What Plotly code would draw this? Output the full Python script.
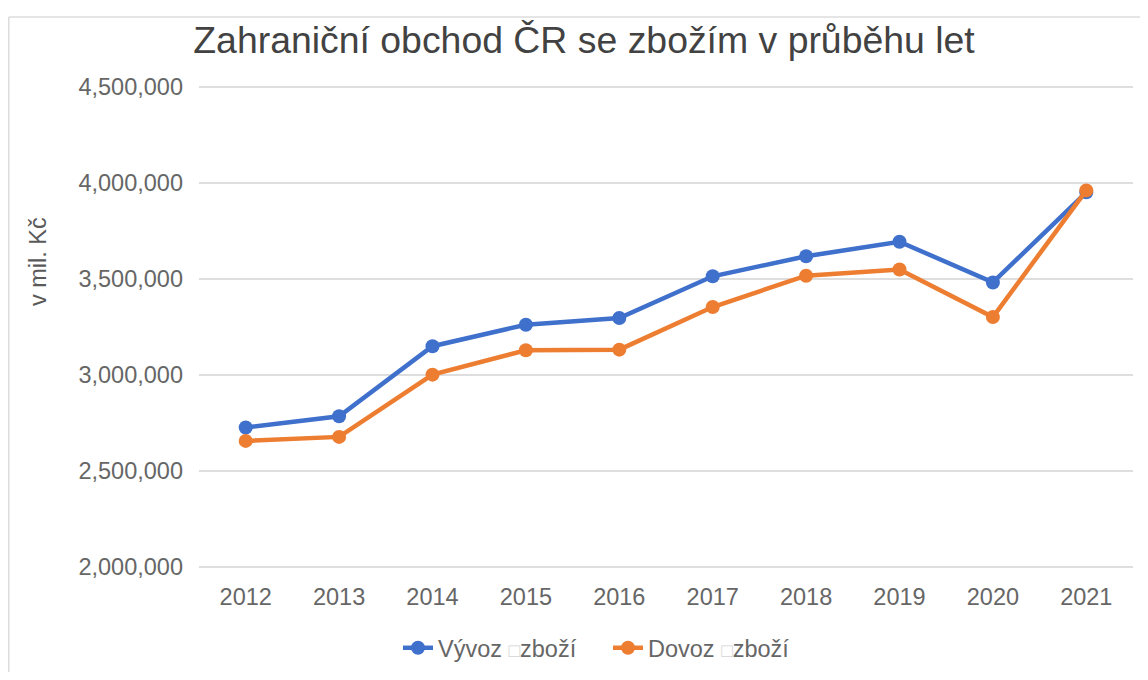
import plotly.graph_objects as go

years = ["2012", "2013", "2014", "2015", "2016", "2017", "2018", "2019", "2020", "2021"]
vyvoz = [2727000, 2785000, 3150000, 3262000, 3297000, 3514000, 3618000, 3694000, 3482000, 3951000]
dovoz = [2657000, 2678000, 3002000, 3129000, 3132000, 3354000, 3517000, 3549000, 3302000, 3961000]
y_ticks = [2000000, 2500000, 3000000, 3500000, 4000000, 4500000]

BLUE = "#3F70CC"
ORANGE = "#ED7D31"
FONT = "Liberation Sans, Arial, sans-serif"
FS = 23.5

# page is offset by the 8px body margin, so figure coords = page coords - 8
W, H = 1140, 664
L, R, T, B = 191, 15, 76, 102
pw, ph = W - L - R, H - T - B
YMIN, YMAX = 1985000, 4515000

def px_x(x):
    return (x - L) / pw

def px_y(y):
    return (H - B - y) / ph

box = "<span style='color:#d4d4d4;font-size:19px'>□</span>"

fig = go.Figure()
fig.add_trace(go.Scatter(
    x=years, y=vyvoz, mode="lines+markers", name="Vývoz " + box + "zboží",
    line=dict(color=BLUE, width=4.5), marker=dict(color=BLUE, size=14),
))
fig.add_trace(go.Scatter(
    x=years, y=dovoz, mode="lines+markers", name="Dovoz " + box + "zboží",
    line=dict(color=ORANGE, width=4.5), marker=dict(color=ORANGE, size=14),
))

fig.update_layout(
    width=W, height=H,
    margin=dict(l=L, r=R, t=T, b=B, pad=0, autoexpand=False),
    paper_bgcolor="white", plot_bgcolor="white",
    font=dict(family=FONT, color="#666666", size=FS),
    title=dict(text="Zahraniční obchod ČR se zbožím v průběhu let",
               font=dict(family=FONT, size=37.4, color="#424242"),
               x=576 / W, xanchor="center", xref="container",
               y=1 - 32 / H, yanchor="middle", yref="container"),
    xaxis=dict(type="category", range=[-0.5, 9.5], showgrid=False, zeroline=False,
               showline=False, ticks="", ticklabelstandoff=10,
               tickfont=dict(size=FS, color="#666666")),
    yaxis=dict(range=[YMIN, YMAX], tickvals=y_ticks, tickformat=",d",
               showgrid=True, gridcolor="#dedede", gridwidth=1.5, zeroline=False,
               showline=False, ticks="", ticklabelstandoff=15,
               tickfont=dict(size=FS, color="#666666")),
    showlegend=True,
    legend=dict(orientation="h", x=px_x(390), xanchor="left",
                y=px_y(640), yanchor="middle", font=dict(size=FS, color="#666666"),
                itemwidth=30, tracegroupgap=0, entrywidth=165, entrywidthmode="pixels"),
    annotations=[dict(text="v mil. Kč", textangle=-90, xref="paper", yref="paper",
                      x=px_x(30), y=px_y(254), xanchor="center", yanchor="middle",
                      showarrow=False, font=dict(size=FS, color="#595959"))],
    shapes=[
        dict(type="line", xref="paper", yref="paper", x0=px_x(0.75), x1=px_x(W + 5),
             y0=px_y(9), y1=px_y(9), line=dict(color="#dcdcdc", width=1.5)),
        dict(type="line", xref="paper", yref="paper", x0=px_x(0.75), x1=px_x(0.75),
             y0=px_y(9), y1=px_y(H + 5), line=dict(color="#dcdcdc", width=1.5)),
    ],
)

fig.write_html("out.html")
